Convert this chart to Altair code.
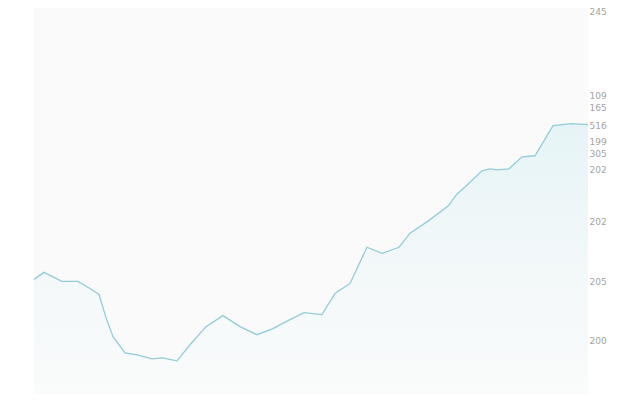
import altair as alt
import pandas as pd

# series (x in days-like index units, value in arbitrary units)
xs = [0, 10, 28, 44, 56, 65, 72, 79, 91, 103, 118, 128, 143, 156, 172, 189, 206, 223,
      239, 256, 270, 288, 301, 316, 333, 348, 365, 376, 394, 414, 423, 431, 448, 456,
      463, 475, 488, 501, 519, 537, 554]
vals = [114, 121, 112, 112, 105, 99, 76, 57, 41, 39, 35, 36, 33, 49, 67, 78, 67, 59,
        65, 74, 81, 79, 100, 110, 146, 140, 146, 160, 172, 187, 199, 206, 222, 224,
        223, 224, 236, 237, 267, 269, 268]

# right-side tick labels as shown in the picture
tick_values = [381, 297, 285, 267, 251, 239, 223, 172, 112, 53]
tick_labels = ["245", "109", "165", "516", "199", "305", "202", "202", "205", "200"]

df = pd.DataFrame({"x": xs, "v": vals})

label_expr = "[" + ",".join("'%s'" % t for t in tick_labels) + "][indexof([" + \
    ",".join(str(v) for v in tick_values) + "], datum.value)]"

xenc = alt.X("x:Q", scale=alt.Scale(domain=[0, 554], nice=False, zero=False), axis=None)
yscale = alt.Scale(domain=[0, 384], nice=False, zero=True)
yaxis = alt.Axis(
    orient="right",
    values=tick_values,
    labelExpr=label_expr,
    domain=False,
    ticks=False,
    grid=False,
    labelPadding=1,
    labelColor="#a3a3a3",
    labelFontSize=9,
    labelFont="DejaVu Sans",
    labelOverlap=False,
    title=None,
)
yenc = alt.Y("v:Q", scale=yscale, axis=yaxis)

area = alt.Chart(df).mark_area(
    interpolate="linear",
    color=alt.Gradient(
        gradient="linear",
        x1=1, x2=1, y1=0, y2=1,
        stops=[
            alt.GradientStop(color="#e6f4f7", offset=0),
            alt.GradientStop(color="#f2f8f9", offset=0.5),
            alt.GradientStop(color="#fafbfb", offset=1),
        ],
    ),
).encode(x=xenc, y=yenc)

line = alt.Chart(df).mark_line(
    color="#92ccd9", strokeWidth=1.3, interpolate="linear"
).encode(x=xenc, y=yenc)

chart = alt.layer(area, line).properties(
    width=554,
    height=386,
    autosize=alt.AutoSizeParams(type="none"),
    padding={"left": 26, "top": 0, "right": 30, "bottom": 0},
).configure(
    background="#ffffff"
).configure_view(
    fill="#fafafa", stroke=None
)

chart.save("out.html", embed_options={"renderer": "svg", "actions": False})
